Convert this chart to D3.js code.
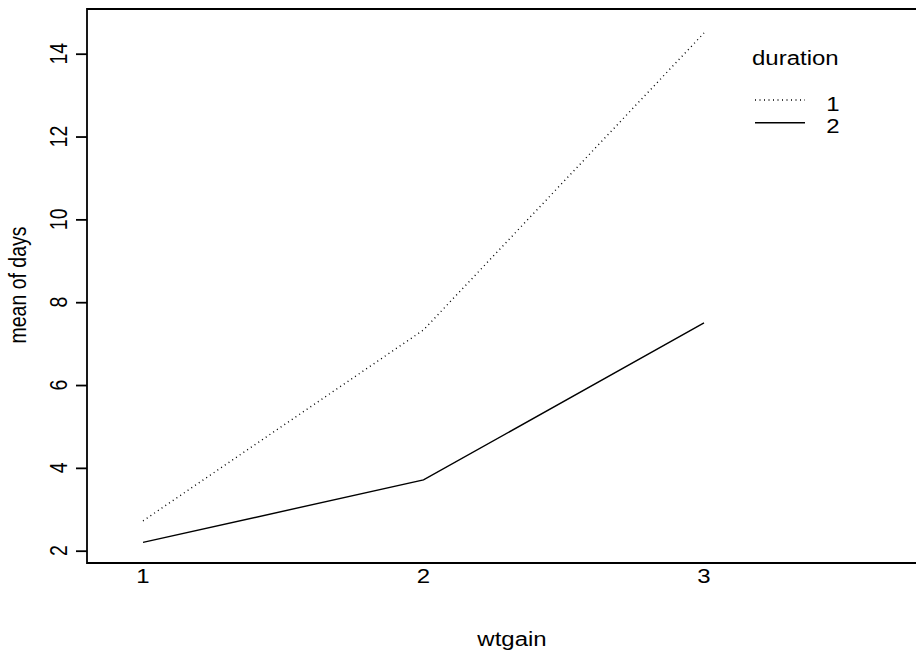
<!DOCTYPE html>
<html>
<head>
<meta charset="utf-8">
<script src="https://cdn.jsdelivr.net/npm/d3@7"></script>
<style>
body { margin: 0; background: #fff; }
text { font-family: "Liberation Sans", Arial, sans-serif; fill: #000; }
</style>
</head>
<body>
<svg id="chart" width="916" height="652"></svg>
<script>
// interaction plot: mean of days by wtgain, one line per duration
var wtgain = [1, 2, 3];
var duration1 = [2.72, 7.33, 14.5];
var duration2 = [2.2, 3.71, 7.5];
var yTicks = [2, 4, 6, 8, 10, 12, 14];
var legendLabels = ["1", "2"];

var svg = d3.select("#chart");

// plot region (right side runs past the page)
var plotLeft = 87, plotTop = 9, plotBottom = 563, plotRight = 922;
var fontSize = 19.5;
var stretch = 1.23;   // the picture is wider than tall, so text is stretched sideways

var x = d3.scaleLinear().domain([1, 3]).range([143, 704]);
var y = d3.scaleLinear().domain([2, 14]).range([550.7, 53.7]);

var series = [
    {name: legendLabels[0], values: duration1, dash: "1,3.5"},
    {name: legendLabels[1], values: duration2, dash: null}
];

var line = d3.line()
    .x(function(d, i) { return x(wtgain[i]); })
    .y(function(d) { return y(d); });

series.forEach(function(s)
{
    svg.append("path")
        .attr("d", line(s.values))
        .attr("fill", "none")
        .attr("stroke", "#000")
        .attr("stroke-width", 1.4)
        .attr("stroke-dasharray", s.dash);
});

//adds a text at x/y, stretched like the picture; rot=true for vertical text
function addText(tx, ty, str, anchor, rot)
{
    return svg.append("text")
        .attr("transform", "translate(" + tx + "," + ty + ") scale(" + stretch + ",1)" + (rot ? " rotate(-90)" : ""))
        .attr("text-anchor", anchor)
        .style("font-size", fontSize + "px")
        .text(str);
}

// box
svg.append("path")
    .attr("d", "M" + plotRight + "," + plotTop + "H" + plotLeft + "V" + plotBottom + "H" + plotRight)
    .attr("fill", "none")
    .attr("stroke", "#000")
    .attr("stroke-width", 1.8);

// y axis ticks
var yAxis = d3.axisLeft(y).tickValues(yTicks).tickSize(11).tickFormat("");
var ya = svg.append("g").attr("transform", "translate(" + plotLeft + ",0)").call(yAxis);
ya.select(".domain").remove();
ya.selectAll(".tick line").attr("stroke", "#000").attr("stroke-width", 1.8);

yTicks.forEach(function(t)
{
    addText(66.5, y(t), t, "middle", true);
});

// x labels, no ticks
wtgain.forEach(function(w)
{
    addText(x(w), 583, w, "middle", false);
});

addText(512, 646, "wtgain", "middle", false);
addText(26, 285, "mean of days", "middle", true);

// legend
addText(752, 65, "duration", "start", false);
var legendY = d3.scaleLinear().domain([0, 1]).range([100, 122.7]);
series.forEach(function(s, i)
{
    svg.append("line")
        .attr("x1", 755).attr("x2", 805)
        .attr("y1", legendY(i)).attr("y2", legendY(i))
        .attr("stroke", "#000")
        .attr("stroke-width", 1.4)
        .attr("stroke-dasharray", s.dash);
    addText(833, legendY(i) + 10.5, s.name, "middle", false);
});
</script>
</body>
</html>
